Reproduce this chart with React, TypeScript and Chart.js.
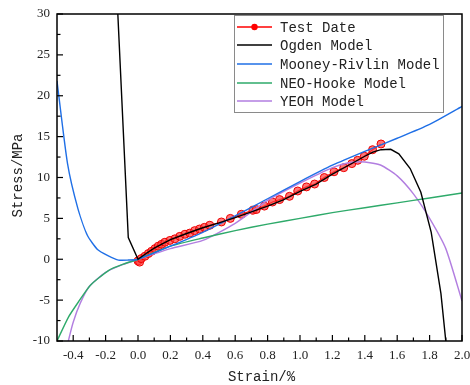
import React, { useEffect, useRef } from "react";
import { Chart, registerables } from "chart.js";

Chart.register(...registerables);

const testStrain = [0.0, 0.01, 0.02, 0.043, 0.064, 0.084, 0.105, 0.125, 0.146, 0.166, 0.197, 0.228, 0.258, 0.29, 0.32, 0.35, 0.38, 0.41, 0.443, 0.515, 0.57, 0.638, 0.71, 0.73, 0.78, 0.83, 0.874, 0.935, 0.986, 1.04, 1.09, 1.15, 1.21, 1.27, 1.32, 1.356, 1.397, 1.448, 1.5];
const testStress = [-0.2, -0.35, 0.08, 0.37, 0.7, 0.98, 1.3, 1.6, 1.83, 2.08, 2.3, 2.5, 2.8, 3.06, 3.2, 3.5, 3.7, 3.9, 4.16, 4.56, 5.0, 5.5, 6.0, 6.08, 6.5, 7.0, 7.3, 7.7, 8.35, 8.85, 9.2, 10.0, 10.7, 11.2, 11.7, 12.1, 12.6, 13.4, 14.1];

const ogdenStrain = [-0.128, -0.121, -0.06, 0.0, 0.05, 0.1, 0.2, 0.3, 0.4, 0.5, 0.6, 0.7, 0.8, 0.9, 1.0, 1.1, 1.2, 1.3, 1.4, 1.45, 1.5, 1.56, 1.61, 1.68, 1.746, 1.81, 1.87, 1.9, 1.92];
const ogdenStress = [31.5, 28.5, 2.65, 0.0, 0.7, 1.35, 2.4, 3.15, 3.85, 4.45, 5.1, 5.8, 6.5, 7.3, 8.3, 9.2, 10.4, 11.5, 12.6, 13.1, 13.4, 13.45, 12.9, 11.1, 8.2, 3.3, -4.2, -10, -13];

const mrStrain = [-0.5, -0.435, -0.371, -0.312, -0.25, -0.186, -0.12, -0.06, 0.0, 0.2, 0.4, 0.6, 0.8, 1.0, 1.2, 1.4, 1.6, 1.8, 2.0];
const mrStress = [21.8, 11.7, 6.2, 2.9, 1.2, 0.45, -0.1, -0.1, 0.0, 1.6, 3.3, 5.3, 7.4, 9.5, 11.5, 13.2, 14.8, 16.5, 18.7];

const nhStrain = [-0.5, -0.43, -0.367, -0.295, -0.18, -0.09, 0.0, 0.2, 0.4, 0.6, 0.8, 1.0, 1.2, 1.4, 1.6, 1.8, 2.0];
const nhStress = [-10, -7.1, -5.2, -3.2, -1.35, -0.6, 0, 1.6, 2.6, 3.5, 4.3, 5.0, 5.7, 6.3, 6.9, 7.5, 8.1];

const yeohStrain = [-0.44, -0.43, -0.4, -0.357, -0.3, -0.2, -0.1, 0.0, 0.2, 0.4, 0.6, 0.8, 1.0, 1.2, 1.3, 1.4, 1.5, 1.6, 1.7, 1.8, 1.9, 2.0];
const yeohStress = [-11, -10, -7.7, -5.4, -3.3, -1.6, -0.7, 0, 1.3, 2.3, 4.4, 7.2, 9.3, 11.2, 11.8, 11.9, 11.5, 10.2, 8.0, 5.0, 1.3, -5.1];

const xTicks = [-0.4, -0.2, 0.0, 0.2, 0.4, 0.6, 0.8, 1.0, 1.2, 1.4, 1.6, 1.8, 2.0];
const yTicks = [-10, -5, 0, 5, 10, 15, 20, 25, 30];

const seriesNames = ["Test Date", "Ogden Model", "Mooney-Rivlin Model", "NEO-Hooke Model", "YEOH Model"];
const seriesColors = ["#ff0000", "#000000", "#1f6fe6", "#2eaa6a", "#b27ee0"];

const zip = (xs: number[], ys: number[]) => xs.map((x, i) => ({ x, y: ys[i] }));

const framePlugin = {
  id: "frameAndLegend",
  afterDatasetsDraw(chart: any) {
    const { ctx, chartArea } = chart;
    const { left, right, top, bottom } = chartArea;
    const xs = chart.scales.x;
    const ys = chart.scales.y;
    ctx.save();
    ctx.strokeStyle = "#000";
    ctx.lineWidth = 1.2;
    for (let v = -4; v <= 20; v++) {
      const px = xs.getPixelForValue(v / 10);
      const len = v % 2 === 0 ? 6 : 3.5;
      ctx.beginPath();
      ctx.moveTo(px, bottom);
      ctx.lineTo(px, bottom - len);
      ctx.stroke();
    }
    for (let k = -4; k <= 12; k++) {
      const py = ys.getPixelForValue(k * 2.5);
      const len = k % 2 === 0 ? 6 : 3.5;
      ctx.beginPath();
      ctx.moveTo(left, py);
      ctx.lineTo(left + len, py);
      ctx.stroke();
    }
    ctx.lineWidth = 1.5;
    ctx.strokeRect(left, top, right - left, bottom - top);

    const lx = 234, ly = 15, lw = 209, lh = 97;
    ctx.fillStyle = "#ffffff";
    ctx.fillRect(lx, ly, lw, lh);
    ctx.strokeStyle = "#8a8a8a";
    ctx.lineWidth = 1;
    ctx.strokeRect(lx + 0.5, ly + 0.5, lw, lh);
    const rows = [27, 45, 64, 83, 101];
    ctx.font = "14px 'Liberation Mono', monospace";
    ctx.textBaseline = "middle";
    ctx.textAlign = "left";
    seriesNames.forEach((name, i) => {
      const y = rows[i];
      ctx.strokeStyle = seriesColors[i];
      ctx.lineWidth = 1.5;
      ctx.beginPath();
      ctx.moveTo(237, y);
      ctx.lineTo(272, y);
      ctx.stroke();
      if (i === 0) {
        ctx.fillStyle = "#ff0000";
        ctx.beginPath();
        ctx.arc(254.5, y, 3.2, 0, Math.PI * 2);
        ctx.fill();
      }
      ctx.fillStyle = "#222";
      ctx.fillText(name, 280, y + 1);
    });

    ctx.fillStyle = "#222";
    ctx.font = "14px 'Liberation Mono', monospace";
    ctx.textAlign = "center";
    ctx.textBaseline = "middle";
    ctx.fillText("Strain/%", (left + right) / 2 + 2, 377);
    ctx.save();
    ctx.translate(18, (top + bottom) / 2 - 2);
    ctx.rotate(-Math.PI / 2);
    ctx.fillText("Stress/MPa", 0, 0);
    ctx.restore();
    ctx.restore();
  },
};

export default function App() {
  const ref = useRef<HTMLCanvasElement | null>(null);
  useEffect(() => {
    document.body.style.margin = "0";
    const canvas = ref.current;
    if (!canvas) return;
    const lineDs = (label: string, xs: number[], ys: number[], color: string, tension: number) => ({
      label,
      data: zip(xs, ys),
      borderColor: color,
      backgroundColor: color,
      borderWidth: 1.4,
      pointRadius: 0,
      tension,
      order: 1,
    });
    const chart = new Chart(canvas, {
      type: "line",
      data: {
        datasets: [
          {
            label: seriesNames[0],
            data: zip(testStrain, testStress),
            borderColor: "#ff0000",
            backgroundColor: "rgba(255,60,60,0.7)",
            borderWidth: 1.2,
            pointRadius: 4,
            pointBorderColor: "#ee0000",
            pointBorderWidth: 1,
            tension: 0,
            order: 10,
          },
          lineDs(seriesNames[1], ogdenStrain, ogdenStress, seriesColors[1], 0),
          lineDs(seriesNames[2], mrStrain, mrStress, seriesColors[2], 0.2),
          lineDs(seriesNames[3], nhStrain, nhStress, seriesColors[3], 0.2),
          lineDs(seriesNames[4], yeohStrain, yeohStress, seriesColors[4], 0.2),
        ],
      },
      options: {
        animation: false,
        responsive: false,
        maintainAspectRatio: false,
        layout: { autoPadding: false, padding: { top: 14, right: 8, left: 0, bottom: 0 } },
        plugins: { legend: { display: false }, tooltip: { enabled: false } },
        scales: {
          x: {
            type: "linear",
            min: -0.5,
            max: 2.0,
            grid: { display: false, drawTicks: false },
            border: { display: false },
            afterBuildTicks: (s: any) => {
              s.ticks = xTicks.map((v) => ({ value: v }));
            },
            afterFit: (s: any) => {
              s.height = 44;
              s.paddingLeft = 0;
              s.paddingRight = 0;
            },
            ticks: {
              padding: 7,
              autoSkip: false,
              maxRotation: 0,
              color: "#222",
              font: { family: "'Liberation Serif', serif", size: 13 },
              callback: (v: any) => Number(v).toFixed(1),
            },
          },
          y: {
            type: "linear",
            min: -10,
            max: 30,
            grid: { display: false, drawTicks: false },
            border: { display: false },
            afterBuildTicks: (s: any) => {
              s.ticks = yTicks.map((v) => ({ value: v }));
            },
            afterFit: (s: any) => {
              s.width = 57;
              s.paddingTop = 0;
              s.paddingBottom = 0;
            },
            ticks: {
              padding: 7,
              color: "#222",
              font: { family: "'Liberation Serif', serif", size: 13 },
              callback: (v: any) => String(v),
            },
          },
        },
      },
      plugins: [framePlugin],
    });
    return () => chart.destroy();
  }, []);
  return (
    <div style={{ width: 470, height: 385 }}>
      <canvas ref={ref} width={470} height={385} style={{ display: "block" }} />
    </div>
  );
}
